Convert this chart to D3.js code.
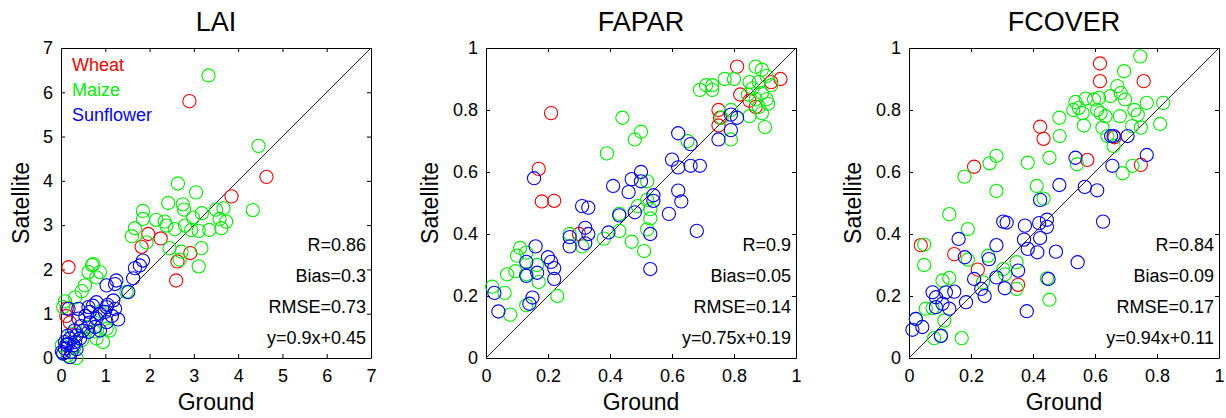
<!DOCTYPE html>
<html>
<head>
<meta charset="utf-8">
<script src="https://cdn.jsdelivr.net/npm/d3@7"></script>
<style>
  body { margin: 0; background: #fff; }
  svg text { font-family: "Liberation Sans", Arial, Helvetica, sans-serif; }
</style>
</head>
<body>
<svg id="chart"></svg>
<script>
// ---- data ----
var cropNames = ["Wheat", "Maize", "Sunflower"];
var cropColors = ["#ff0000", "#00ee00", "#0000ff"];

var laiWheat = [[0.17,2.05],[2.9,5.8],[4.64,4.09],[3.85,3.65],[1.97,2.8],[2.25,2.7],[1.82,2.51],[2.63,2.18],[2.92,2.37],[2.6,1.75],[0.13,1.12],[0.2,0.8],[0.12,0.95]];
var laiMaize = [[3.33,6.38],[4.46,4.79],[4.33,3.34],[2.64,3.94],[3.05,3.74],[2.42,3.5],[2.75,3.47],[2.78,3.35],[1.85,3.32],[1.85,3.14],[2.15,3.12],[2.34,3.08],[2.38,2.99],[2.98,3.17],[3.18,3.27],[3.5,3.35],[3.67,3.38],[3.58,3.14],[3.73,3.08],[3.62,2.93],[3.35,2.89],[3.11,2.87],[2.94,2.89],[2.57,2.91],[2.8,2.99],[1.67,2.93],[1.6,2.75],[1.93,2.61],[2.45,2.48],[2.72,2.4],[3.17,2.48],[3.11,2.07],[2.68,2.22],[0.73,2.12],[0.7,2.1],[0.88,1.94],[0.62,1.94],[0.8,1.82],[0.54,1.64],[0.47,1.51],[0.32,1.37],[0.09,1.28],[0.05,1.15],[1.48,1.49],[1.03,0.66],[0.95,0.36],[0.8,0.44],[0.35,0.0],[0.02,0.29],[0.47,0.4],[0.75,0.6],[0.3,0.25],[0.6,0.7],[0.9,1.05],[0.15,0.05],[0.25,0.55],[1.1,0.62]];
var laiSunflower = [[1.85,2.2],[1.78,2.09],[1.67,2.03],[1.63,1.8],[1.25,1.75],[1.22,1.67],[1.03,1.64],[1.52,1.49],[1.18,1.3],[1.22,1.11],[1.03,1.15],[0.8,1.26],[0.62,1.15],[0.39,1.11],[0.17,1.11],[1.29,0.87],[0.88,1.0],[0.8,0.89],[1.03,0.81],[0.65,0.8],[0.39,0.89],[0.77,0.7],[0.5,0.62],[0.35,0.51],[0.2,0.44],[0.17,0.32],[0.28,0.29],[0.09,0.21],[0.05,0.1],[0.2,0.02],[0.43,0.44],[0.62,0.59],[0.88,0.62],[0.99,1.04],[0.65,1.04],[0.09,0.36],[0.32,0.36],[0.24,0.14],[0.02,0.14],[1.05,1.2],[0.72,1.18],[0.55,0.95],[0.45,0.72],[0.3,0.62],[0.15,0.5],[0.12,0.3],[0.35,0.2],[1.15,0.95]];

var faparWheat = [[0.21,0.79],[0.17,0.61],[0.18,0.505],[0.22,0.507],[0.3,0.4],[0.81,0.94],[0.95,0.9],[0.82,0.85],[0.75,0.8],[0.755,0.775],[0.75,0.75],[0.85,0.83],[0.87,0.81],[0.92,0.89]];
var faparMaize = [[0.44,0.775],[0.5,0.73],[0.48,0.705],[0.39,0.66],[0.65,0.7],[0.69,0.865],[0.71,0.88],[0.73,0.865],[0.73,0.88],[0.77,0.9],[0.8,0.9],[0.87,0.94],[0.89,0.93],[0.905,0.91],[0.85,0.89],[0.88,0.89],[0.92,0.88],[0.86,0.87],[0.89,0.855],[0.905,0.835],[0.87,0.835],[0.845,0.85],[0.91,0.82],[0.88,0.81],[0.89,0.79],[0.85,0.78],[0.9,0.745],[0.79,0.8],[0.76,0.775],[0.79,0.705],[0.52,0.57],[0.49,0.49],[0.52,0.51],[0.53,0.48],[0.53,0.45],[0.52,0.415],[0.43,0.465],[0.43,0.41],[0.47,0.375],[0.51,0.345],[0.38,0.385],[0.27,0.4],[0.31,0.36],[0.11,0.355],[0.13,0.34],[0.1,0.33],[0.165,0.3],[0.095,0.28],[0.068,0.27],[0.13,0.27],[0.17,0.245],[0.02,0.23],[0.06,0.21],[0.23,0.2],[0.13,0.17],[0.078,0.14]];
var faparSunflower = [[0.79,0.785],[0.81,0.775],[0.79,0.735],[0.75,0.705],[0.62,0.725],[0.66,0.69],[0.6,0.64],[0.62,0.615],[0.66,0.62],[0.69,0.62],[0.62,0.54],[0.63,0.505],[0.59,0.465],[0.68,0.41],[0.5,0.6],[0.5,0.57],[0.47,0.577],[0.46,0.535],[0.41,0.555],[0.54,0.525],[0.54,0.507],[0.48,0.47],[0.43,0.46],[0.395,0.405],[0.53,0.4],[0.53,0.287],[0.31,0.49],[0.33,0.485],[0.32,0.42],[0.33,0.4],[0.27,0.39],[0.27,0.36],[0.32,0.37],[0.155,0.58],[0.16,0.36],[0.13,0.31],[0.2,0.325],[0.21,0.31],[0.22,0.29],[0.22,0.255],[0.165,0.275],[0.13,0.265],[0.15,0.195],[0.14,0.175],[0.027,0.21],[0.04,0.15]];

var fcoverWheat = [[0.616,0.95],[0.616,0.893],[0.757,0.893],[0.423,0.746],[0.434,0.707],[0.21,0.617],[0.575,0.639],[0.748,0.623],[0.663,0.712],[0.038,0.364],[0.146,0.335],[0.222,0.285],[0.352,0.236]];
var fcoverMaize = [[0.746,0.973],[0.694,0.925],[0.672,0.877],[0.683,0.855],[0.65,0.845],[0.697,0.834],[0.613,0.839],[0.597,0.834],[0.57,0.837],[0.537,0.826],[0.548,0.807],[0.56,0.79],[0.53,0.8],[0.607,0.8],[0.618,0.79],[0.634,0.78],[0.68,0.78],[0.727,0.8],[0.738,0.785],[0.767,0.823],[0.82,0.823],[0.81,0.755],[0.748,0.743],[0.72,0.748],[0.624,0.743],[0.564,0.75],[0.64,0.716],[0.66,0.684],[0.689,0.596],[0.721,0.62],[0.542,0.625],[0.485,0.775],[0.486,0.716],[0.453,0.646],[0.383,0.63],[0.412,0.555],[0.434,0.514],[0.282,0.652],[0.26,0.628],[0.282,0.539],[0.179,0.585],[0.13,0.464],[0.19,0.416],[0.049,0.366],[0.049,0.3],[0.19,0.317],[0.255,0.33],[0.347,0.309],[0.304,0.287],[0.31,0.27],[0.108,0.25],[0.13,0.258],[0.239,0.244],[0.347,0.223],[0.445,0.257],[0.453,0.188],[0.054,0.159],[0.076,0.161],[0.114,0.121],[0.081,0.064],[0.17,0.064],[0.103,0.073],[0.022,0.126]];
var fcoverSunflower = [[0.705,0.716],[0.66,0.716],[0.652,0.716],[0.767,0.655],[0.656,0.62],[0.537,0.646],[0.485,0.558],[0.567,0.552],[0.607,0.541],[0.626,0.44],[0.423,0.51],[0.544,0.309],[0.445,0.446],[0.445,0.423],[0.42,0.435],[0.423,0.387],[0.374,0.427],[0.371,0.382],[0.383,0.352],[0.414,0.341],[0.474,0.343],[0.304,0.44],[0.315,0.437],[0.282,0.364],[0.258,0.319],[0.352,0.282],[0.282,0.26],[0.309,0.225],[0.38,0.151],[0.45,0.255],[0.16,0.384],[0.18,0.325],[0.21,0.255],[0.233,0.223],[0.244,0.2],[0.184,0.18],[0.146,0.214],[0.119,0.212],[0.076,0.212],[0.087,0.196],[0.087,0.164],[0.108,0.175],[0.13,0.159],[0.103,0.071],[0.022,0.126],[0.011,0.091],[0.043,0.1]];

var panelTitles = ["LAI", "FAPAR", "FCOVER"];
var panelMax = [7, 1, 1];
var laiTicks = [0, 1, 2, 3, 4, 5, 6, 7];
var fracTicks = [0, 0.2, 0.4, 0.6, 0.8, 1];
var statsLAI = ["R=0.86", "Bias=0.3", "RMSE=0.73", "y=0.9x+0.45"];
var statsFAPAR = ["R=0.9", "Bias=0.05", "RMSE=0.14", "y=0.75x+0.19"];
var statsFCOVER = ["R=0.84", "Bias=0.09", "RMSE=0.17", "y=0.94x+0.11"];

var panels = [
  { title: panelTitles[0], max: panelMax[0], ticks: laiTicks, stats: statsLAI, series: [laiWheat, laiMaize, laiSunflower], legend: true },
  { title: panelTitles[1], max: panelMax[1], ticks: fracTicks, stats: statsFAPAR, series: [faparWheat, faparMaize, faparSunflower], legend: false },
  { title: panelTitles[2], max: panelMax[2], ticks: fracTicks, stats: statsFCOVER, series: [fcoverWheat, fcoverMaize, fcoverSunflower], legend: false }
];

// ---- layout ----
var W = 1226, H = 418;
var lefts = [61, 486, 909];
var size = 310, top0 = 48;
var ylabelOffset = [-32, -48, -48];

var svg = d3.select("#chart").attr("width", W).attr("height", H);

panels.forEach(function (p, i) {
  var g = svg.append("g").attr("transform", "translate(" + lefts[i] + "," + top0 + ")");

  var x = d3.scaleLinear().domain([0, p.max]).range([0, size]);
  var y = d3.scaleLinear().domain([0, p.max]).range([size, 0]);
  var fmt = function (d) { return String(+d.toFixed(1)); };

  // box with inward ticks on all four sides
  g.append("g").attr("transform", "translate(0," + size + ")")
    .call(d3.axisBottom(x).tickValues(p.ticks).tickFormat(fmt).tickSizeInner(-4).tickSizeOuter(0).tickPadding(11));
  g.append("g")
    .call(d3.axisLeft(y).tickValues(p.ticks).tickFormat(fmt).tickSizeInner(-4).tickSizeOuter(0).tickPadding(8));
  g.append("g").call(d3.axisTop(x).tickValues(p.ticks).tickFormat("").tickSizeInner(-4).tickSizeOuter(0));
  g.append("g").attr("transform", "translate(" + size + ",0)")
    .call(d3.axisRight(y).tickValues(p.ticks).tickFormat("").tickSizeInner(-4).tickSizeOuter(0));
  g.selectAll(".domain, .tick line").attr("stroke", "#000").attr("stroke-width", 1);
  g.selectAll(".tick text").attr("font-size", 18).attr("fill", "#000");

  // 1:1 line
  g.append("line")
    .attr("x1", x(0)).attr("y1", y(0)).attr("x2", x(p.max)).attr("y2", y(p.max))
    .attr("stroke", "#222").attr("stroke-width", 1);

  // points
  p.series.forEach(function (s, k) {
    g.selectAll(".pt" + k).data(s).enter().append("circle")
      .attr("class", "pt" + k)
      .attr("cx", function (d) { return x(d[0]); })
      .attr("cy", function (d) { return y(d[1]); })
      .attr("r", 6.6)
      .attr("fill", "none")
      .attr("stroke", cropColors[k])
      .attr("stroke-width", 1.1);
  });

  // title + axis labels
  g.append("text").attr("x", size / 2).attr("y", -17).attr("text-anchor", "middle")
    .attr("font-size", 27).text(p.title);
  g.append("text").attr("x", size / 2).attr("y", size + 52).attr("text-anchor", "middle")
    .attr("font-size", 23).text("Ground");
  g.append("text").attr("transform", "translate(" + ylabelOffset[i] + "," + (size / 2) + ") rotate(-90)")
    .attr("text-anchor", "middle").attr("font-size", 23).text("Satellite");

  // stats
  g.selectAll(".stat").data(p.stats).enter().append("text")
    .attr("class", "stat")
    .attr("x", size - 5)
    .attr("y", function (d, j) { return size - 107 + j * 31; })
    .attr("text-anchor", "end").attr("font-size", 18)
    .text(function (d) { return d; });

  if (p.legend) {
    g.selectAll(".leg").data(cropNames).enter().append("text")
      .attr("x", 11)
      .attr("y", function (d, j) { return 23 + j * 25; })
      .attr("font-size", 18)
      .attr("fill", function (d, j) { return cropColors[j]; })
      .text(function (d) { return d; });
  }
});
</script>
</body>
</html>
